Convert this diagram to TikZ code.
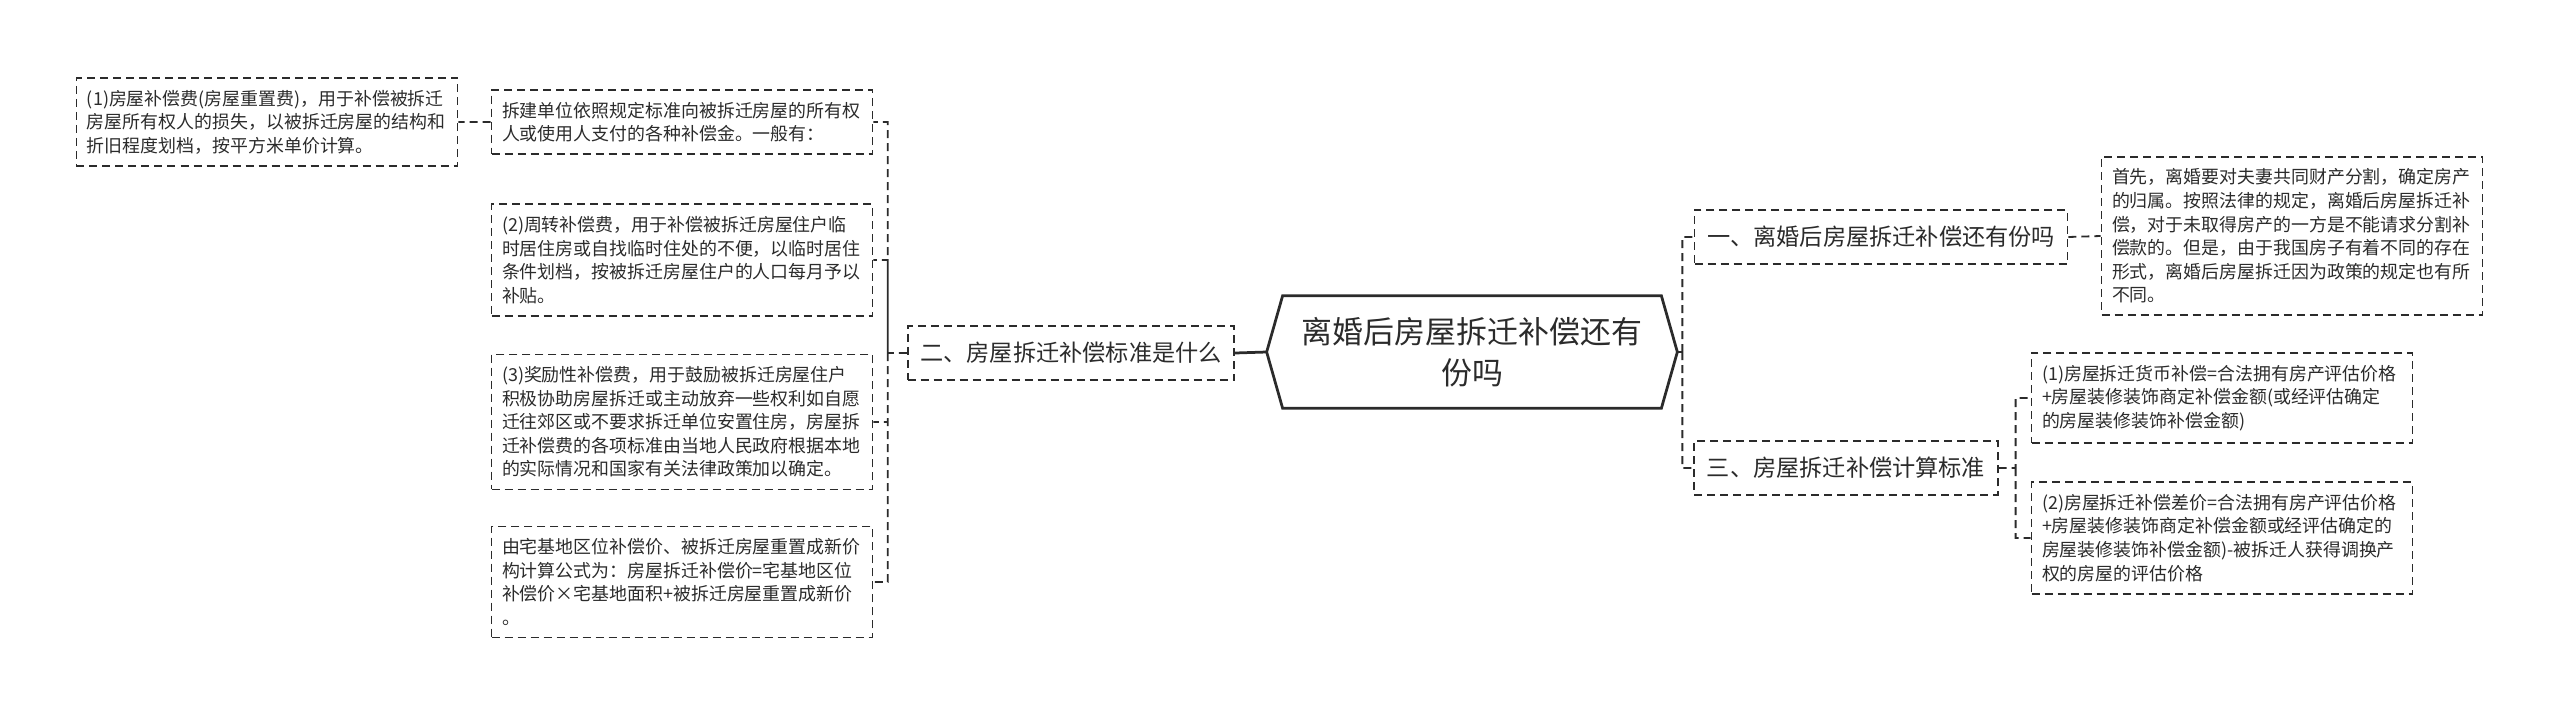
\documentclass[tikz,border=0pt]{standalone}
\usepackage{fontspec}
\setmainfont{Noto Sans CJK SC}
\usepackage{xcolor}
\usepackage{tikz}
\definecolor{ink}{HTML}{2B2B2B}

\begin{document}
\begin{tikzpicture}[x=0.2mm,y=-0.2mm,
		leaf/.style={draw=ink,text=ink,dash pattern=on 1.6mm off 1mm,line width=0.36mm,
			font=\fontsize{10.2}{13.4}\selectfont,align=left,text width=72mm,
			inner xsep=2.1mm,inner ysep=2.4mm},
		branch/.style={draw=ink,text=ink,dash pattern=on 1.6mm off 1mm,line width=0.36mm,
			font=\fontsize{13.2}{16}\selectfont,inner xsep=2.5mm,minimum height=10.8mm},
		rootbox/.style={text=ink,font=\fontsize{17.6}{23.3}\selectfont,align=center,
			minimum width=82mm,minimum height=22.4mm},
		link/.style={draw=ink,dash pattern=on 1.6mm off 1mm,line width=0.36mm},
		trunk/.style={draw=ink,line width=0.55mm}]
		\useasboundingbox (0,0) rectangle (2560,718);
		% centre
		\node[rootbox] (M) at (1472,352) {离婚后房屋拆迁补偿还有\\份吗};
		\draw[trunk] (M.west) -- ([xshift=3.2mm]M.north west) -- ([xshift=-3.2mm]M.north east)
			-- (M.east) -- ([xshift=-3.2mm]M.south east) -- ([xshift=3.2mm]M.south west) -- cycle;
		% branches
		\node[branch] (B) at (1071,353) {二、房屋拆迁补偿标准是什么};
		\node[branch] (A) at (1881,237) {一、离婚后房屋拆迁补偿还有份吗};
		\node[branch] (C) at (1846,468) {三、房屋拆迁补偿计算标准};
		% left leaves
		\node[leaf] (B1) at (682,122) {拆建单位依照规定标准向被拆迁房屋的所有权\\人或使用人支付的各种补偿金。一般有：};
		\node[leaf] (B1') at (267,122) {(1)房屋补偿费(房屋重置费)，用于补偿被拆迁\\房屋所有权人的损失，以被拆迁房屋的结构和\\折旧程度划档，按平方米单价计算。};
		\node[leaf] (B2) at (682,260) {(2)周转补偿费，用于补偿被拆迁房屋住户临\\时居住房或自找临时住处的不便，以临时居住\\条件划档，按被拆迁房屋住户的人口每月予以\\补贴。};
		\node[leaf] (B3) at (682,422) {(3)奖励性补偿费，用于鼓励被拆迁房屋住户\\积极协助房屋拆迁或主动放弃一些权利如自愿\\迁往郊区或不要求拆迁单位安置住房，房屋拆\\迁补偿费的各项标准由当地人民政府根据本地\\的实际情况和国家有关法律政策加以确定。};
		\node[leaf] (B4) at (682,582) {由宅基地区位补偿价、被拆迁房屋重置成新价\\构计算公式为：房屋拆迁补偿价=宅基地区位\\补偿价×宅基地面积+被拆迁房屋重置成新价\\。};
		% right leaves
		\node[leaf] (A1) at (2292,236) {首先，离婚要对夫妻共同财产分割，确定房产\\的归属。按照法律的规定，离婚后房屋拆迁补\\偿，对于未取得房产的一方是不能请求分割补\\偿款的。但是，由于我国房子有着不同的存在\\形式，离婚后房屋拆迁因为政策的规定也有所\\不同。};
		\node[leaf] (C1) at (2222,398) {(1)房屋拆迁货币补偿=合法拥有房产评估价格\\+房屋装修装饰商定补偿金额(或经评估确定\\的房屋装修装饰补偿金额)};
		\node[leaf] (C2) at (2222,538) {(2)房屋拆迁补偿差价=合法拥有房产评估价格\\+房屋装修装饰商定补偿金额或经评估确定的\\房屋装修装饰补偿金额)-被拆迁人获得调换产\\权的房屋的评估价格};
		%
		\coordinate (L) at ([xshift=-3.8mm]B.west);
		\coordinate (R) at ([xshift=1mm]M.east);
		\coordinate (R') at ([xshift=3.4mm]C.east);
		\draw[trunk] (M.west) -- (B.east);
		\draw[trunk] (M.east) -- (R);
		\draw[link]
		% left connectors
		(B.west) -- (L) |- (B1.east)
		(L) |- (B2.east)
		(L) |- (B3.east)
		(L) |- (B4.east)
		(B1.west) -- (B1'.east)
		% right connectors
		(R) |- (A.west)
		(R) |- (C.west)
		(A.east) -- (A1.west)
		(C.east) -- (R') |- (C1.west)
		(R') |- (C2.west);
	\end{tikzpicture}
\end{document}
